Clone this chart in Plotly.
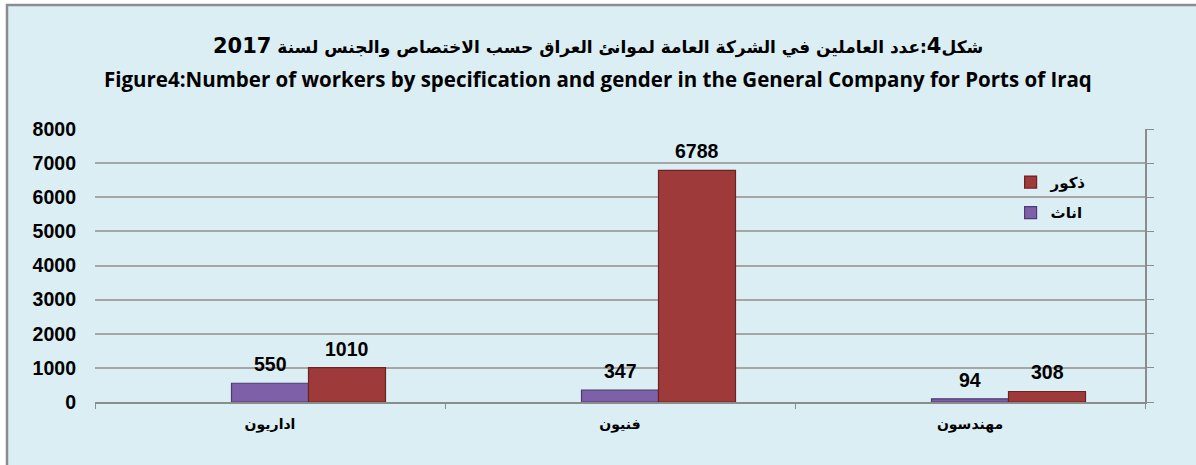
import plotly.graph_objects as go

categories = ["اداريون", "فنيون", "مهندسون"]
female = [550, 347, 94]
male = [1010, 6788, 308]
series_names = ["اناث", "ذكور"]
title_ar = "شكل<span style='font-size:21px'>4</span>:عدد العاملين في الشركة العامة لموانئ العراق حسب الاختصاص والجنس لسنة <span style='font-size:21px'>2017</span>"
title_en = "Figure4:Number of workers by specification and gender in the General Company for Ports of Iraq"
y_ticks = [0, 1000, 2000, 3000, 4000, 5000, 6000, 7000, 8000]

W, H = 1196, 465
L, R, T, B = 95, 51, 129, 63
PW = W - L - R
PH = H - T - B

bar_w = 0.22
fig = go.Figure()
fig.add_trace(go.Bar(
    x=categories, y=female, name=f"<b>{series_names[0]}</b>", legendgroup="f",
    legendrank=2,
    width=bar_w, offset=-0.11,
    marker=dict(color="#7D60A8", line=dict(color="#4E3B72", width=1.2)),
))
fig.add_trace(go.Bar(
    x=categories, y=male, name=f"<b>{series_names[1]}</b>", legendgroup="m",
    legendrank=1,
    width=bar_w, offset=0.11,
    marker=dict(color="#9E3A39", line=dict(color="#6A2222", width=1.2)),
))

# value labels
for vals, off in ((female, -0.11 + bar_w / 2), (male, 0.11 + bar_w / 2)):
    for i, v in enumerate(vals):
        fig.add_annotation(
            x=i + off, y=v, xref="x", yref="y", text=f"<b>{v}</b>",
            showarrow=False, yanchor="bottom", yshift=6,
            font=dict(family="Liberation Sans, Arial", size=19.5, color="#000"),
        )

# titles
fig.add_annotation(
    x=(W / 2 - L) / PW, y=1 + (T - 46) / PH, xref="paper", yref="paper",
    text=f"<b>{title_ar}</b>", showarrow=False, yanchor="middle",
    font=dict(family="DejaVu Sans, Liberation Sans", size=17, color="#000"),
)
fig.add_annotation(
    x=(W / 2 - L) / PW, y=1 + (T - 79) / PH, xref="paper", yref="paper",
    text=f"<b>{title_en}</b>", showarrow=False, yanchor="middle",
    font=dict(family="Open Sans", size=20.5, color="#000"),
)

# outer frame
fig.add_shape(type="rect", xref="paper", yref="paper",
              x0=-(L - 7) / PW, x1=1 + (R + 5) / PW,
              y0=-(B + 5) / PH, y1=1 + (T - 5) / PH,
              fillcolor="#DBEEF4", line=dict(color="#8C8C8C", width=2.5),
              layer="below")

fig.update_layout(
    width=W, height=H,
    margin=dict(l=L, r=R, t=T, b=B),
    paper_bgcolor="white",
    plot_bgcolor="#FDE9D9",
    barmode="overlay",
    showlegend=True,
    legend=dict(
        x=0.872, y=0.865, xanchor="left", yanchor="top",
        traceorder="grouped", bgcolor="rgba(0,0,0,0)",
        font=dict(family="DejaVu Sans, Liberation Sans", size=15, color="#000"),
        itemwidth=30, tracegroupgap=8,
    ),
    xaxis=dict(
        type="category", range=[-0.5, 2.5],
        tickvals=categories, ticktext=[f"<b>{c}</b>" for c in categories],
        showline=True, linecolor="#8C8C8C", linewidth=1.5,
        ticks="outside", tickson="boundaries", ticklen=5, tickcolor="#8C8C8C",
        showgrid=False,
        tickfont=dict(family="DejaVu Sans, Liberation Sans", size=14, color="#000"),
        ticklabelstandoff=8,
    ),
    yaxis=dict(
        range=[0, 8000], tickvals=y_ticks,
        ticktext=[f"<b>{t}</b>" for t in y_ticks],
        showgrid=True, gridcolor="#A6A6A6", gridwidth=1.5,
        zeroline=False, showline=False,
        tickfont=dict(family="Liberation Sans, Arial", size=19.5, color="#000"),
        ticklabelstandoff=18,
    ),
    yaxis2=dict(
        range=[0, 8000], tickvals=y_ticks, overlaying="y", side="right",
        showticklabels=False, showgrid=False, zeroline=False,
        showline=True, linecolor="#8C8C8C", linewidth=1.5,
        ticks="outside", ticklen=7, tickcolor="#8C8C8C",
    ),
)
fig.add_trace(go.Scatter(x=[categories[0]], y=[None], yaxis="y2",
                         showlegend=False, hoverinfo="skip"))

fig.write_html(
    "out.html",
    config={"displayModeBar": False},
    post_script="document.body.style.margin='0';document.body.style.overflow='hidden';",
)
